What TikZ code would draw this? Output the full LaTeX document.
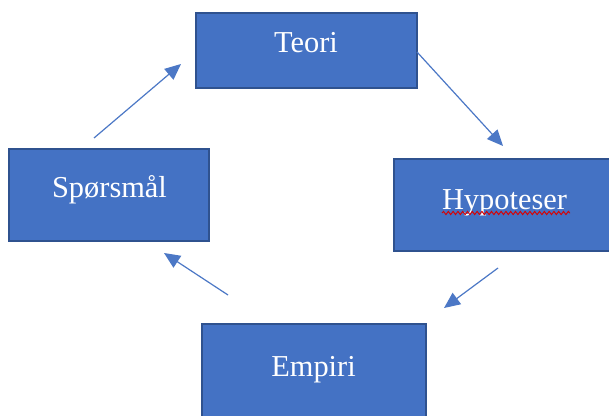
\documentclass[tikz,border=0pt]{standalone}
\usepackage{fontspec}
\setmainfont{Liberation Serif}
\usetikzlibrary{arrows.meta,decorations.pathmorphing}
\definecolor{boxfill}{RGB}{68,114,196}
\definecolor{boxline}{RGB}{47,82,143}
\definecolor{arrowcol}{RGB}{76,120,198}
\tikzset{
  box/.style={draw=boxline, fill=boxfill, line width=0.9pt, inner sep=0pt},
  lbl/.style={text=white, font=\fontsize{22.8}{27}\selectfont, anchor=base, inner sep=0pt},
  conn/.style={draw=arrowcol, line width=0.9pt, -{Triangle[length=12pt,width=10.5pt]}},
  spell/.style={draw=red!85!black, line width=0.7pt, decorate, decoration={snake, amplitude=1.2pt, segment length=3.6pt}}
}
\begin{document}
\begin{tikzpicture}[x=0.75pt,y=-0.75pt]
\useasboundingbox (0,0) rectangle (609,416);
\fill[white] (0,0) rectangle (609,416);
% boxes
\node[box, minimum width=221*0.75pt, minimum height=75*0.75pt] (teori) at (306.5,50.5) {};
\node[box, minimum width=200*0.75pt, minimum height=92*0.75pt] (sporsmal) at (109,195) {};
\node[box, minimum width=218*0.75pt, minimum height=92*0.75pt] (hypoteser) at (503,205) {};
\node[box, minimum width=224*0.75pt, minimum height=100*0.75pt] (empiri) at (314,374) {};
% labels
\node[lbl] (tTeori) at (306,53) {Teori};
\node[lbl] (tSpor) at (109.5,198) {Spørsmål};
\node[lbl] (tHyp) at (504.5,210) {Hypoteser};
\node[lbl] (tEmp) at (313.5,376) {Empiri};
\coordinate (u1) at (442,213);
\coordinate (u2) at (570,213);
\draw[spell] (u1) -- (u2);
% arrow end points
\coordinate (a1s) at (94,138);
\coordinate (a1e) at (181,64);
\coordinate (a2s) at (417,52);
\coordinate (a2e) at (503,146);
\coordinate (a3s) at (498,268);
\coordinate (a3e) at (444,308);
\coordinate (a4s) at (228,295);
\coordinate (a4e) at (164,253);
\draw[conn] (a1s) -- (a1e);
\draw[conn] (a2s) -- (a2e);
\draw[conn] (a3s) -- (a3e);
\draw[conn] (a4s) -- (a4e);
\end{tikzpicture}
\end{document}
